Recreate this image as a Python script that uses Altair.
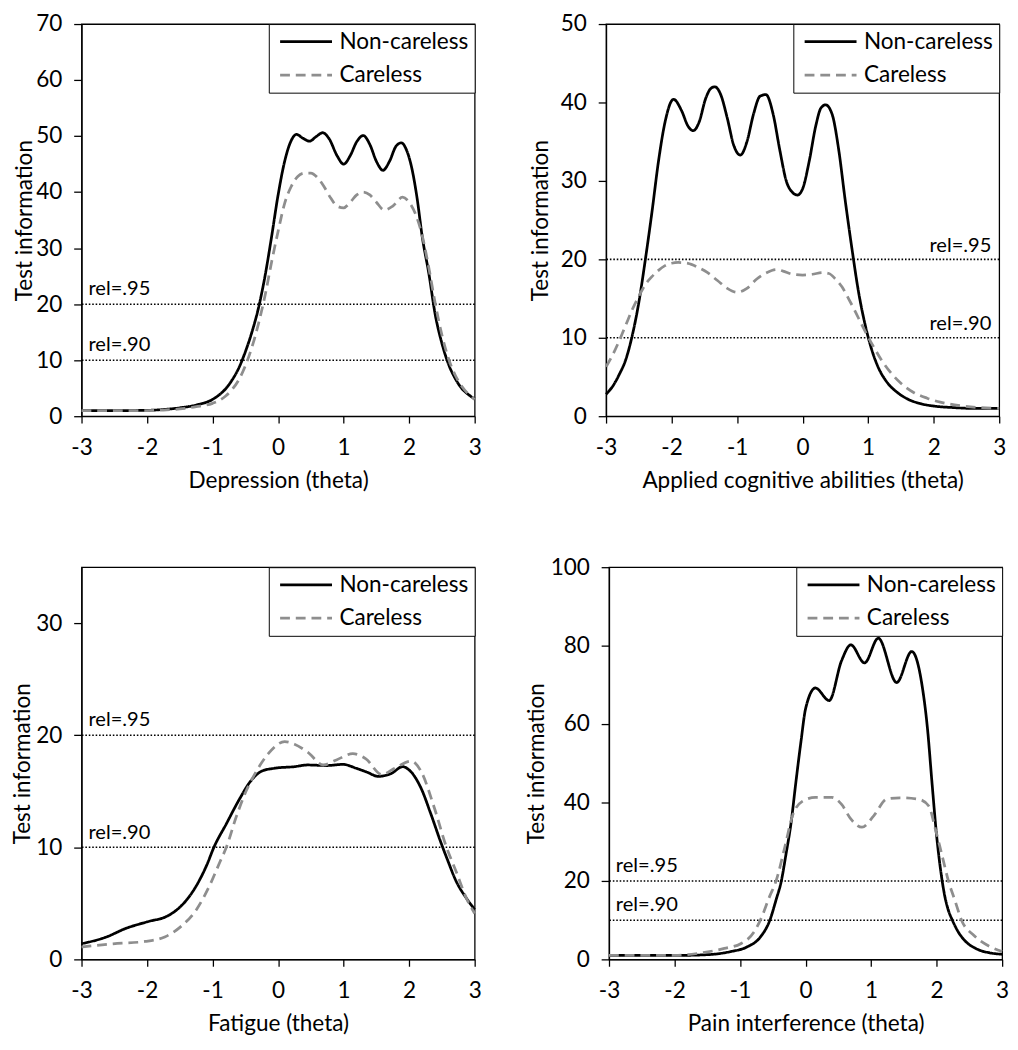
import altair as alt
import pandas as pd

FONT = "Lato"
GROUPS = ["Non-careless", "Careless"]
REL_VALUES = [20, 10]
REL_LABELS = ["rel=.95", "rel=.90"]
X_TICKS = [-3, -2, -1, 0, 1, 2, 3]

# ---- Depression ----
dep_x_nc = [-3, -2.5, -2, -1.75, -1.5, -1.25, -1, -0.9, -0.8, -0.7, -0.6, -0.5, -0.4, -0.3, -0.2, -0.1,
            0, 0.1, 0.2, 0.28, 0.38, 0.48, 0.58, 0.68, 0.78, 0.9, 1.0, 1.1, 1.2, 1.3, 1.4, 1.5, 1.6,
            1.7, 1.8, 1.88, 1.96, 2.04, 2.12, 2.2, 2.3, 2.4, 2.5, 2.6, 2.7, 2.8, 2.9, 3.0]
dep_y_nc = [1.0, 1.0, 1.05, 1.2, 1.5, 2.0, 3.0, 3.8, 4.9, 6.5, 8.6, 11.5, 15.0, 19.3, 25.0, 32.0,
            39.5, 45.5, 49.2, 50.3, 49.6, 49.1, 49.9, 50.6, 49.5, 46.5, 45.0, 46.5, 49.0, 50.1, 48.5, 45.5, 43.9,
            45.5, 48.2, 48.8, 47.5, 44.3, 39.0, 32.0, 25.5, 18.0, 13.0, 9.3, 6.8, 5.0, 3.9, 3.1]
dep_x_c = [-3, -2.5, -2, -1.75, -1.5, -1.25, -1, -0.9, -0.8, -0.7, -0.6, -0.5, -0.4, -0.3, -0.2, -0.1,
           0, 0.1, 0.2, 0.3, 0.4, 0.5, 0.6, 0.7, 0.8, 0.9, 1.0, 1.1, 1.2, 1.3, 1.4, 1.5, 1.62,
           1.75, 1.9, 2.0, 2.1, 2.2, 2.3, 2.4, 2.5, 2.6, 2.7, 2.8, 2.9, 3.0]
dep_y_c = [1.0, 1.0, 1.0, 1.1, 1.3, 1.7, 2.3, 2.8, 3.6, 4.8, 6.5, 9.0, 12.3, 16.5, 21.5, 27.5,
           33.0, 38.0, 41.0, 42.8, 43.4, 43.4, 42.6, 41.0, 39.0, 37.5, 37.2, 38.2, 39.5, 40.0, 39.5, 38.2, 36.8,
           37.5, 39.1, 38.2, 36.0, 32.2, 26.5, 20.0, 14.5, 10.3, 7.4, 5.4, 4.0, 3.0]

# ---- Applied cognitive abilities ----
cog_x_nc = [-3, -2.9, -2.8, -2.7, -2.6, -2.5, -2.4, -2.3, -2.2, -2.1, -1.97, -1.85, -1.75, -1.67, -1.58,
            -1.48, -1.4, -1.34, -1.25, -1.15, -1.05, -0.95, -0.85, -0.75, -0.65, -0.56, -0.45, -0.35,
            -0.25, -0.15, -0.08, 0.0, 0.1, 0.2, 0.28, 0.35, 0.45, 0.55, 0.65, 0.75, 0.85, 0.95, 1.05,
            1.15, 1.3, 1.45, 1.6, 1.8, 2.0, 2.3, 2.6, 3.0]
cog_y_nc = [2.8, 3.8, 5.3, 7.2, 10.3, 14.5, 20.0, 26.0, 32.5, 37.5, 40.4, 39.0, 37.0, 36.4, 37.5,
            40.5, 41.8, 42.0, 41.0, 38.0, 34.5, 33.3, 35.0, 38.5, 40.8, 41.0, 38.5, 34.0,
            30.0, 28.5, 28.2, 29.0, 32.5, 37.0, 39.3, 39.7, 38.5, 34.0, 27.5, 21.5, 16.0, 11.8, 8.6,
            6.3, 4.2, 3.0, 2.2, 1.6, 1.3, 1.1, 1.0, 1.0]
cog_x_c = [-3, -2.9, -2.8, -2.7, -2.6, -2.5, -2.4, -2.3, -2.2, -2.1, -2.0, -1.9, -1.75, -1.6, -1.45,
           -1.3, -1.15, -1.0, -0.85, -0.7, -0.55, -0.4, -0.3, -0.15, 0.0, 0.15, 0.3, 0.4, 0.5, 0.6,
           0.7, 0.8, 0.9, 1.0, 1.1, 1.2, 1.35, 1.5, 1.7, 1.9, 2.1, 2.4, 2.7, 3.0]
cog_y_c = [6.3, 7.8, 9.6, 11.6, 13.6, 15.3, 16.8, 17.8, 18.6, 19.2, 19.5, 19.6, 19.5, 19.0, 18.3,
           17.3, 16.3, 15.8, 16.3, 17.5, 18.3, 18.7, 18.5, 18.1, 18.0, 18.1, 18.3, 18.2, 17.5, 16.5,
           15.0, 13.4, 11.7, 10.1, 8.6, 7.2, 5.5, 4.2, 3.0, 2.3, 1.8, 1.35, 1.1, 1.0]

# ---- Fatigue ----
fat_x_nc = [-3, -2.62, -2.33, -2.0, -1.68, -1.53, -1.39, -1.24, -1.09, -0.98, -0.79, -0.59, -0.42,
            -0.25, -0.05, 0.25, 0.45, 0.74, 0.99, 1.19, 1.36, 1.53, 1.73, 1.9, 2.0, 2.18, 2.33, 2.48,
            2.58, 2.72, 2.87, 3.0]
fat_y_nc = [1.4, 2.0, 2.75, 3.35, 3.9, 4.5, 5.35, 6.65, 8.4, 10.0, 12.1, 14.3, 15.9,
            16.8, 17.06, 17.2, 17.35, 17.3, 17.4, 17.06, 16.7, 16.33, 16.6, 17.2, 16.9, 15.3, 13.0, 10.5,
            8.96, 6.94, 5.49, 4.45]
fat_x_c = [-3, -2.52, -2.03, -1.73, -1.49, -1.24, -1.04, -0.89, -0.79, -0.64, -0.49, -0.35, -0.15,
           0.1, 0.25, 0.45, 0.69, 0.89, 1.14, 1.34, 1.58, 1.78, 2.03, 2.18, 2.38, 2.57, 2.72, 2.87, 3.0]
fat_y_c = [1.1, 1.39, 1.6, 2.0, 2.9, 4.5, 6.65, 8.67, 10.0, 12.7, 15.0, 16.6, 18.36,
           19.43, 19.2, 18.5, 17.35, 17.8, 18.36, 17.9, 16.5, 17.06, 17.7, 16.8, 13.6, 10.0, 7.8, 5.5, 4.1]

# ---- Pain interference ----
pain_x_nc = [-3, -2.5, -2, -1.5, -1.14, -0.89, -0.69, -0.545, -0.45, -0.37, -0.3, -0.22, -0.15, -0.07,
             0.0, 0.15, 0.36, 0.55, 0.69, 0.9, 1.11, 1.39, 1.62, 1.78, 1.86, 1.93, 2.0, 2.04, 2.08,
             2.12, 2.17, 2.24, 2.33, 2.43, 2.62, 2.8, 3.0]
pain_y_nc = [1.0, 1.0, 1.0, 1.2, 2.0, 3.2, 5.7, 10.0, 15.2, 20.0, 26.7, 35.0, 44.9, 55.6,
             63.9, 69.2, 66.0, 76.2, 80.2, 75.6, 81.9, 70.6, 78.5, 69.6, 58.9, 44.9, 31.5, 25.5, 20.5,
             16.5, 13.0, 10.0, 7.0, 4.8, 2.6, 1.7, 1.3]
pain_x_c = [-3, -2.5, -2, -1.63, -1.24, -0.99, -0.79, -0.69, -0.55, -0.45, -0.32, -0.2, -0.05, 0.15,
            0.4, 0.55, 0.69, 0.86, 1.04, 1.24, 1.44, 1.73, 1.88, 1.98, 2.08, 2.18, 2.28, 2.38, 2.57,
            2.82, 3.0]
pain_y_c = [1.0, 1.0, 1.0, 1.56, 2.8, 4.0, 6.9, 10.0, 16.0, 20.0, 28.4, 36.6, 40.3, 41.3,
            41.3, 39.5, 35.8, 33.7, 36.6, 40.9, 41.2, 40.8, 39.1, 33.3, 26.7, 20.0, 15.0, 10.0, 6.1,
            3.2, 2.0]

W = 401
H = 400


def panel(x_nc, y_nc, x_c, y_c, ymax, yticks, xtitle, rel_right, extent, tpad):
    df = pd.DataFrame({
        "theta": list(x_nc) + list(x_c),
        "info": list(y_nc) + list(y_c),
        "group": [GROUPS[0]] * len(x_nc) + [GROUPS[1]] * len(x_c),
    })
    rel = pd.DataFrame({"v": REL_VALUES, "label": REL_LABELS})

    xs = alt.Scale(domain=[-3, 3], nice=False, zero=False)
    ys = alt.Scale(domain=[0, ymax], nice=False)
    xax = alt.Axis(values=X_TICKS, title=xtitle, labelExpr="'' + datum.value", labelFlush=False)
    yax = alt.Axis(values=yticks, title="Test information", minExtent=extent, maxExtent=extent,
                   titlePadding=tpad, labelOverlap=False)

    rules = alt.Chart(rel).mark_rule(color="black", strokeWidth=1.6, strokeDash=[1.6, 1.9]).encode(
        y=alt.Y("v:Q", scale=ys, axis=yax)
    )
    if rel_right:
        texts = alt.Chart(rel).mark_text(align="right", baseline="bottom", dx=-8, dy=-4,
                                         fontSize=20.5, font=FONT, color="black").encode(
            x=alt.datum(3, scale=xs), y=alt.Y("v:Q", scale=ys), text="label:N")
    else:
        texts = alt.Chart(rel).mark_text(align="left", baseline="bottom", dx=7, dy=-5,
                                         fontSize=20.5, font=FONT, color="black").encode(
            x=alt.datum(-3, scale=xs), y=alt.Y("v:Q", scale=ys), text="label:N")

    leg = alt.Legend(title=None, orient="top-right", offset=0)
    lines = alt.Chart(df).mark_line(strokeWidth=2.8, interpolate="monotone").encode(
        x=alt.X("theta:Q", scale=xs, axis=xax),
        y=alt.Y("info:Q", scale=ys, axis=yax),
        color=alt.Color("group:N", scale=alt.Scale(domain=GROUPS, range=["#000000", "#8e8e8e"]), legend=leg),
        strokeDash=alt.StrokeDash("group:N", scale=alt.Scale(domain=GROUPS, range=[[1, 0], [10, 6]]),
                                  legend=leg),
    )
    return alt.layer(rules, texts, lines).properties(width=W, height=H)


p1 = panel(dep_x_nc, dep_y_nc, dep_x_c, dep_y_c, 70, [0, 10, 20, 30, 40, 50, 60, 70],
           "Depression (theta)", False, 46, 0)
p2 = panel(cog_x_nc, cog_y_nc, cog_x_c, cog_y_c, 50, [0, 10, 20, 30, 40, 50],
           "Applied cognitive abilities (theta)", True, 47, 8)
p3 = panel(fat_x_nc, fat_y_nc, fat_x_c, fat_y_c, 35, [0, 10, 20, 30],
           "Fatigue (theta)", False, 48, 0)
p4 = panel(pain_x_nc, pain_y_nc, pain_x_c, pain_y_c, 100, [0, 10, 20, 30, 40, 50, 60, 70, 80, 90, 100],
           "Pain interference (theta)", False, 60, 2)

top = alt.hconcat(p1, p2, spacing=47).resolve_legend(color="independent", strokeDash="independent")
bottom = alt.hconcat(p3, p4, spacing=43).resolve_legend(color="independent", strokeDash="independent")

chart = alt.vconcat(top, bottom, spacing=63).resolve_legend(
    color="independent", strokeDash="independent"
).configure(
    font=FONT, padding={"top": -6, "left": 3, "right": 0, "bottom": 0}
).configure_view(
    stroke="black", strokeWidth=1.3
).configure_axis(
    labelFont=FONT, titleFont=FONT, labelFontSize=23, titleFontSize=23, titleFontWeight="normal",
    labelColor="black", titleColor="black", domainColor="black", tickColor="black",
    domainWidth=1.3, tickWidth=1.3, grid=False
).configure_axisX(
    tickSize=7, labelPadding=14, titlePadding=11
).configure_axisY(
    tickSize=8, labelPadding=12
).configure_legend(
    labelFont=FONT, labelFontSize=23, labelColor="black", strokeColor="black", fillColor="white",
    padding=6, symbolOffset=4, symbolSize=2800, symbolStrokeWidth=2.8, symbolType="stroke",
    clipHeight=24, rowPadding=10, labelOffset=6, labelLimit=400
)

chart.save("out.html", embed_options={"renderer": "svg", "actions": False})
